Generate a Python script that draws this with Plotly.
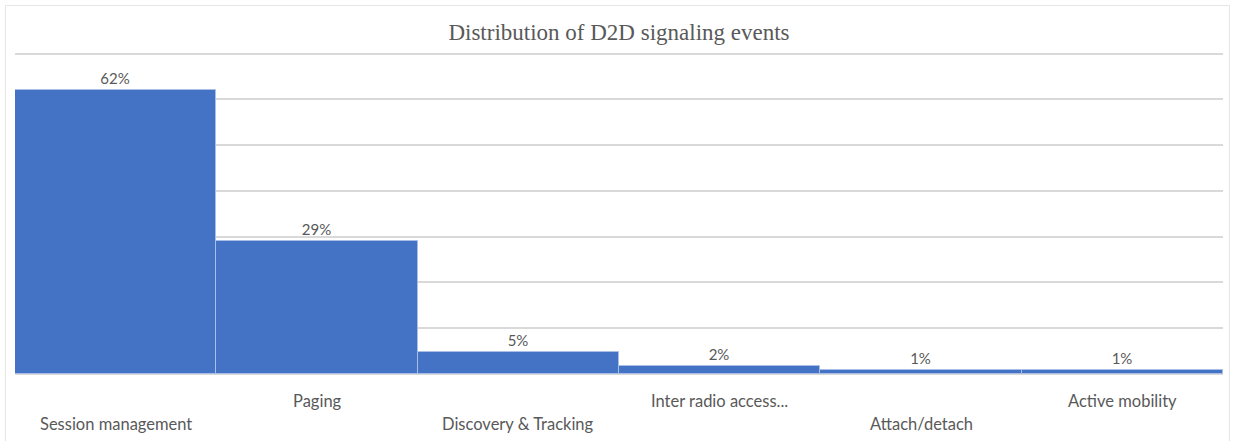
import plotly.graph_objects as go

categories = ["Session management", "Paging", "Discovery & Tracking",
              "Inter radio access...", "Attach/detach", "Active mobility"]
values = [62, 29, 4.7, 1.8, 0.9, 0.9]
label_row = [1, 0, 1, 0, 1, 0]  # staggered category labels (Excel style)

W, H = 1234, 441
L, R, T, B = 15, 11, 49, 67

fig = go.Figure()
fig.add_trace(go.Bar(
    x=categories, y=values,
    marker=dict(color="#4472C4", line=dict(color="#a9bfe6", width=1)),
    text=[f"{v:.0f}%" for v in values],
    textposition="outside",
    textfont=dict(family="Lato", size=15, color="#595959"),
    cliponaxis=False,
    hoverinfo="skip",
))

for cat, row in zip(categories, label_row):
    fig.add_annotation(
        x=cat, y=0, xref="x", yref="y",
        text=cat, showarrow=False,
        yanchor="middle", xanchor="center",
        yshift=-27 - 23 * row,
        font=dict(family="Lato", size=16.5, color="#595959"),
    )

pw = W - L - R
ph = H - T - B
def px_x(p):
    return (p - L) / pw
def px_y(p):
    return (H - B - p) / ph

fig.add_shape(type="rect", xref="paper", yref="paper",
              x0=px_x(5.5), x1=px_x(1229.5), y0=px_y(446), y1=px_y(5.5),
              line=dict(color="#e6e6e6", width=1), fillcolor="rgba(0,0,0,0)",
              layer="below")

fig.update_layout(
    width=W, height=H,
    margin=dict(l=L, r=R, t=T, b=B),
    paper_bgcolor="white", plot_bgcolor="white",
    bargap=0,
    showlegend=False,
    title=dict(text="Distribution of D2D signaling events",
               x=0.5, xref="paper", y=1 - 32 / H, yanchor="middle",
               font=dict(family="Liberation Serif", size=23, color="#595959")),
    xaxis=dict(showticklabels=False, showgrid=False, showline=False,
               ticks="", zeroline=False),
    yaxis=dict(range=[0, 71], tickvals=[10, 20, 30, 40, 50, 60, 70],
               showticklabels=False,
               showgrid=True, gridcolor="#d9d9d9", gridwidth=1.5,
               zeroline=True, zerolinecolor="#d9d9d9", zerolinewidth=1.5,
               ticks="", showline=False),
)

fig.write_html("out.html")
